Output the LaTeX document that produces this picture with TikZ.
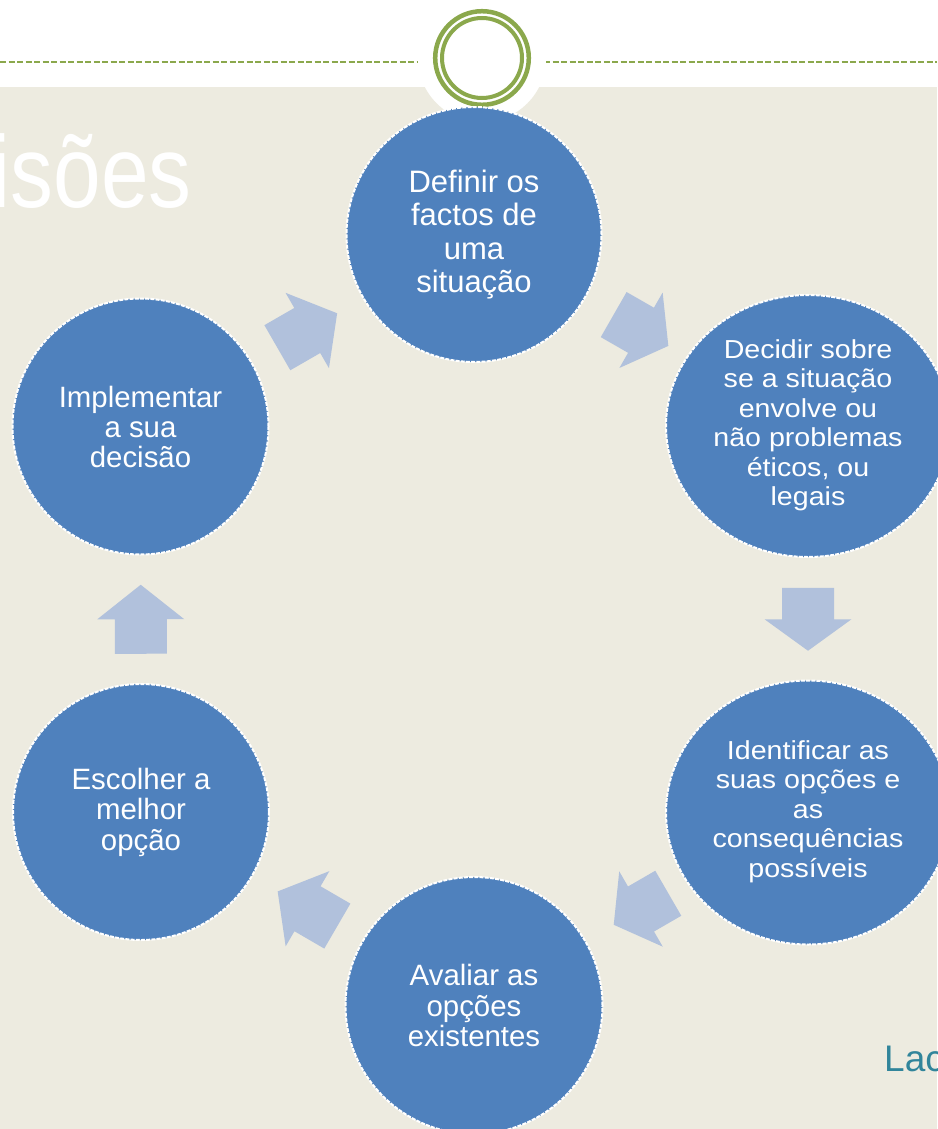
\documentclass[tikz,border=0pt]{standalone}
\usepackage{fontspec}
\usepackage{graphicx}
\setmainfont{Liberation Sans}
\usetikzlibrary{calc,shapes.geometric}
\definecolor{bgbeige}{RGB}{237,235,224}
\definecolor{ringgreen}{RGB}{139,168,76}
\definecolor{stepblue}{RGB}{79,129,189}
\definecolor{arrowblue}{RGB}{177,193,220}
\definecolor{lacteal}{RGB}{49,133,155}
\tikzset{
  stepcircle/.style={circle, fill=stepblue, draw=white, line width=2pt,
    dash pattern=on 4pt off 1.2pt, minimum size=#1, inner sep=0pt,
    text=white, align=center},
  stepellipse/.style={ellipse, fill=stepblue, draw=white, line width=2pt,
    dash pattern=on 4pt off 1.2pt, inner sep=-20pt, text=white, align=center},
  pics/blockarrow/.style={code={
    \fill[arrowblue] (-#1/2,-26) -- (0,-26) -- (0,-43.5) -- (#1/2,0)
      -- (0,43.5) -- (0,26) -- (-#1/2,26) -- cycle;}},
}
\newcommand\cyclearrow[3]{%
  \pgfmathanglebetweenpoints{\pgfpointanchor{#1}{center}}{\pgfpointanchor{#2}{center}}%
  \edef\arrang{\pgfmathresult}%
  \pic[rotate=\arrang] at ($(#1.center)!0.5!(#2.center)$) {blockarrow=#3};%
}
\newcommand\stretchlines[1]{\scalebox{1.1}[1]{\begin{tabular}{@{}c@{}}#1\end{tabular}}}
\begin{document}
\begin{tikzpicture}[x=1pt,y=-1pt]
\useasboundingbox (0,0) rectangle (937,1129);
\fill[white] (0,0) rectangle (937,1129);
\fill[bgbeige] (0,87) rectangle (937,1129);
\draw[ringgreen, line width=2.2pt, dash pattern=on 6pt off 2.5pt] (0,61.7) -- (937,61.7);
\fill[white] (482,58) circle[radius=64];
\draw[ringgreen, line width=4.5pt] (482,58) circle[radius=46.8];
\draw[ringgreen, line width=4pt] (482,58) circle[radius=40];

\node[anchor=base east, inner sep=0pt, text=white, font=\fontsize{102}{110}\selectfont] (title) at (192,207) {\scalebox{0.84}[1]{isões}};
\node[anchor=base west, inner sep=0pt, text=lacteal, font=\fontsize{37}{40}\selectfont] (lac) at (884,1071.7) {Lac};

\node[stepcircle=255, font=\fontsize{31}{33.5}\selectfont] (def) at (474,234.5) {Definir os\\factos de\\uma\\situação};
\node[stepellipse, minimum width=284, minimum height=262, font=\fontsize{26}{29.5}\selectfont] (dec) at (808,426)
  {\stretchlines{Decidir sobre\\se a situação\\envolve ou\\não problemas\\éticos, ou\\legais}};
\node[stepellipse, minimum width=284, minimum height=264, font=\fontsize{26}{29.5}\selectfont] (ide) at (808,812.5)
  {\stretchlines{Identificar as\\suas opções e\\as\\consequências\\possíveis}};
\node[stepcircle=257, font=\fontsize{29.4}{30.5}\selectfont] (ava) at (474,1005.5) {Avaliar as\\opções\\existentes};
\node[stepcircle=256, font=\fontsize{29.4}{30.5}\selectfont] (esc) at (141,812) {Escolher a\\melhor\\opção};
\node[stepcircle=256, font=\fontsize{29.4}{30}\selectfont] (imp) at (140.5,426.5) {Implementar\\a sua\\decisão};

\cyclearrow{imp}{def}{69}
\cyclearrow{def}{dec}{63}
\cyclearrow{dec}{ide}{63}
\cyclearrow{ide}{ava}{63}
\cyclearrow{ava}{esc}{69}
\cyclearrow{esc}{imp}{69}
\end{tikzpicture}
\end{document}
